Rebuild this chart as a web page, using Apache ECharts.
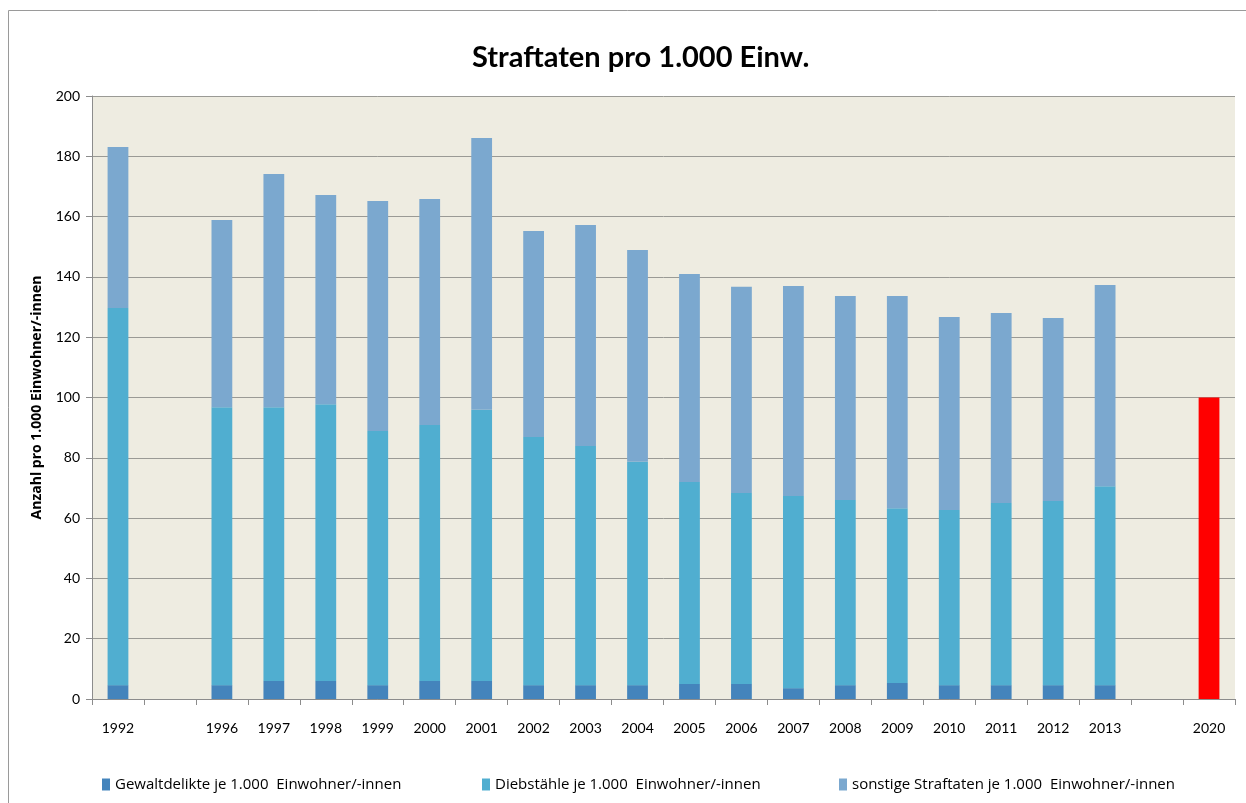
<!DOCTYPE html>
<html>
<head>
<meta charset="utf-8">
<title>Straftaten pro 1.000 Einw.</title>
<script src="https://cdn.jsdelivr.net/npm/echarts@6/dist/echarts.min.js"></script>
<style>
  html, body { margin: 0; padding: 0; background: #fff; }
  #chart { width: 1246px; height: 803px; }
</style>
</head>
<body>
<div id="chart"></div>
<script>
// Years on the category axis; blank slots keep the spacing for missing years
const years = ['1992', '', '1996', '1997', '1998', '1999', '2000', '2001', '2002', '2003',
  '2004', '2005', '2006', '2007', '2008', '2009', '2010', '2011', '2012', '2013', ' ', '2020'];

// Offences per 1,000 inhabitants (stacked segments)
const gewaltdelikte = [4.6, null, 4.6, 6.0, 6.0, 4.6, 6.0, 6.0, 4.6, 4.6,
  4.6, 5.0, 5.0, 3.6, 4.6, 5.3, 4.6, 4.6, 4.6, 4.6, null, null];
const diebstaehle = [125.1, null, 92.2, 90.8, 91.8, 84.3, 84.9, 89.9, 82.3, 79.3,
  74.1, 67.0, 63.3, 63.7, 61.4, 58.0, 58.1, 60.4, 61.1, 66.0, null, null];
const sonstige = [53.4, null, 62.1, 77.3, 69.4, 76.3, 74.9, 90.2, 68.3, 73.3,
  70.2, 69.0, 68.4, 69.7, 67.7, 70.4, 64.0, 63.0, 60.7, 66.7, null, null];
// Target value for 2020
const ziel2020 = [null, null, null, null, null, null, null, null, null, null,
  null, null, null, null, null, null, null, null, null, null, null, 100];

const seriesNames = ['Gewaltdelikte je 1.000  Einwohner/-innen',
  'Diebstähle je 1.000  Einwohner/-innen',
  'sonstige Straftaten je 1.000  Einwohner/-innen'];

const yTicks = { min: 0, max: 200, interval: 20 };

const chart = echarts.init(document.getElementById('chart'));
const font = 'Lato, "Open Sans", sans-serif';
const wideFont = '"Open Sans", Lato, sans-serif';

// one legend block per series so each entry sits at its own column
const legendLefts = [97, 477, 834];
const legends = seriesNames.map((name, i) => ({
  bottom: 6,
  left: legendLefts[i],
  itemWidth: 8,
  itemHeight: 12,
  icon: 'rect',
  data: [name],
  textStyle: { fontFamily: wideFont, fontSize: 15, color: '#000' }
}));

chart.setOption({
  animation: false,
  backgroundColor: '#ffffff',
  textStyle: { fontFamily: font },
  graphic: [{
    type: 'rect',
    silent: true,
    shape: { x: 8.5, y: 10.5, width: 1260, height: 820 },
    style: { fill: 'none', stroke: '#9a9a9a', lineWidth: 1 }
  }],
  title: {
    text: 'Straftaten pro 1.000 Einw.',
    left: 467,
    top: 38,
    textStyle: { fontFamily: font, fontSize: 29, fontWeight: 'bold', color: '#000' }
  },
  legend: legends,
  grid: { left: 92, right: 11, top: 96, bottom: 104, containLabel: false,
    show: true, backgroundColor: '#EEECE1', borderWidth: 0 },
  xAxis: {
    type: 'category',
    data: years,
    axisLine: { show: true, lineStyle: { color: '#8c8c8c', width: 1 } },
    axisTick: { show: true, interval: 0, length: 6, lineStyle: { color: '#8c8c8c' } },
    axisLabel: { interval: 0, margin: 22, fontSize: 14, color: '#000', fontFamily: font },
    splitLine: { show: false }
  },
  yAxis: {
    type: 'value',
    min: yTicks.min,
    max: yTicks.max,
    interval: yTicks.interval,
    name: 'Anzahl pro 1.000 Einwohner/-innen',
    nameLocation: 'middle',
    nameGap: 48,
    nameTextStyle: { fontFamily: wideFont, fontSize: 14, fontWeight: 'bold', color: '#000' },
    axisLine: { show: true, lineStyle: { color: '#8c8c8c', width: 1 } },
    axisTick: { show: true, length: 6, lineStyle: { color: '#8c8c8c' } },
    axisLabel: { fontSize: 14, color: '#000', margin: 12, fontFamily: font },
    splitLine: { show: true, lineStyle: { color: '#9a9a95', width: 1 } }
  },
  series: [
    {
      name: seriesNames[0],
      type: 'bar', stack: 'total', barCategoryGap: '60%',
      itemStyle: { color: '#4484BC' },
      data: gewaltdelikte
    },
    {
      name: seriesNames[1],
      type: 'bar', stack: 'total',
      itemStyle: { color: '#50AED0' },
      data: diebstaehle
    },
    {
      name: seriesNames[2],
      type: 'bar', stack: 'total',
      itemStyle: { color: '#7BA8CF' },
      data: sonstige
    },
    {
      name: 'Ziel 2020',
      type: 'bar', stack: 'total',
      itemStyle: { color: '#FF0000' },
      data: ziel2020
    }
  ]
});
</script>
</body>
</html>
